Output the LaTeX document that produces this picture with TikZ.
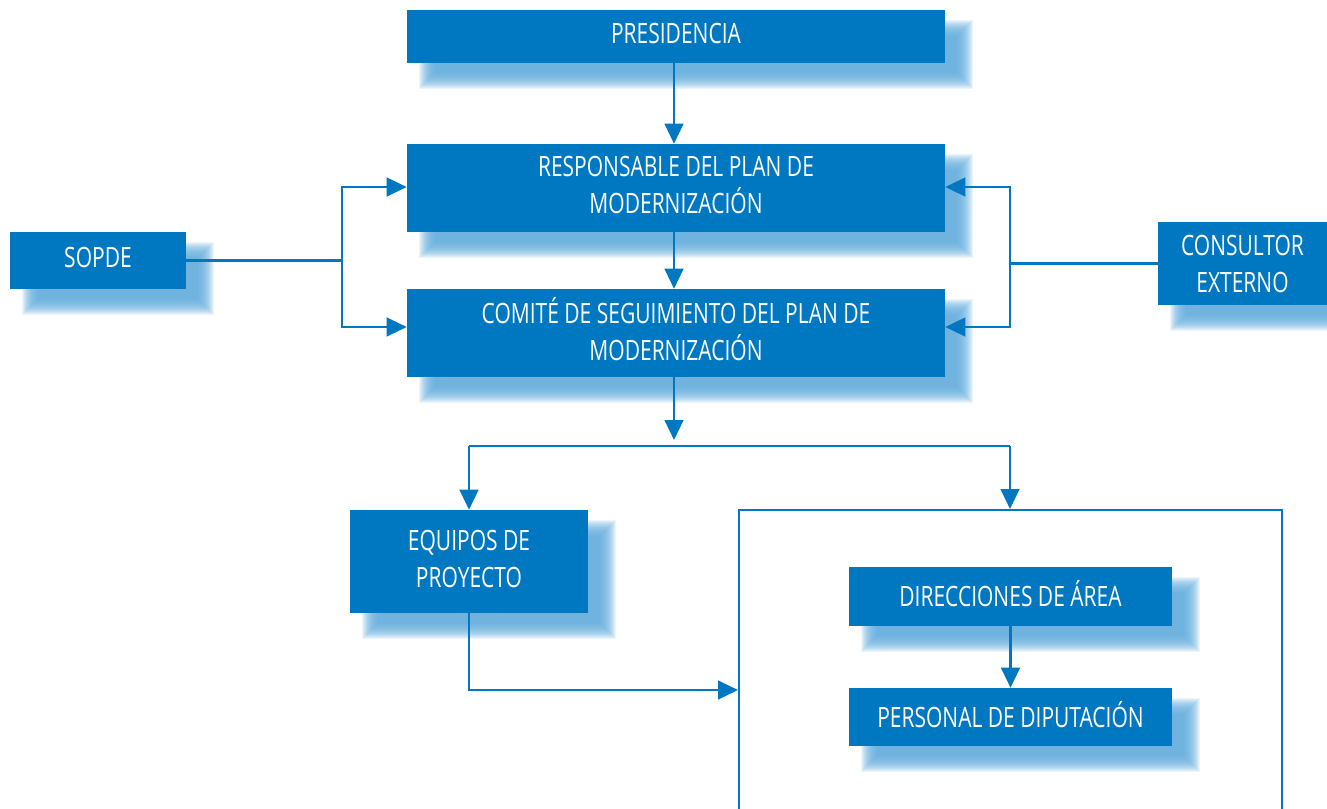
\documentclass[tikz,border=0pt]{standalone}
\usepackage{fontspec}
\setmainfont[FakeStretch=0.75]{Open Sans}
\usetikzlibrary{arrows.meta,calc,backgrounds}
\definecolor{mainblue}{HTML}{0078C1}
\definecolor{shadowblue}{HTML}{5FAADB}
\newcommand{\boxshadow}[1]{%
  \foreach \d in {-8,-7,...,8} {%
    \fill[shadowblue, opacity=0.12] ($(#1.north west)+(20+\d,18+\d)$) rectangle ($(#1.south east)+(20-\d,18-\d)$);}}
\begin{document}
\begin{tikzpicture}[x=0.75pt,y=-0.75pt,
  box/.style={fill=mainblue, text=white, inner sep=0pt, align=center,
    font=\fontsize{21}{27.75}\selectfont, text depth=4.5pt},
  arr/.style={draw=mainblue, line width=1.7pt, -{Triangle[length=15pt,width=14pt]}},
  con/.style={draw=mainblue, line width=1.7pt},
  framebox/.style={draw=mainblue, line width=1.5pt, fill=none}]
\clip (0,0) rectangle (1327,808);
% nodes
\node[box, minimum width=403.5pt, minimum height=39.75pt] (pres) at (676,36.5) {PRESIDENCIA};
\node[box, minimum width=403.5pt, minimum height=66pt] (resp) at (676,188) {RESPONSABLE DEL PLAN DE\\MODERNIZACIÓN};
\node[box, minimum width=403.5pt, minimum height=66pt, text depth=6pt] (comite) at (676,333) {COMITÉ DE SEGUIMIENTO DEL PLAN DE\\MODERNIZACIÓN};
\node[box, minimum width=132pt, minimum height=42.75pt] (sopde) at (98,260.5) {SOPDE};
\node[box, minimum width=126.75pt, minimum height=62.25pt, text depth=0pt] (cons) at (1242.5,263.5) {CONSULTOR\\EXTERNO};
\node[box, minimum width=178.5pt, minimum height=77.25pt] (equipos) at (469,561.5) {EQUIPOS DE\\PROYECTO};
\node[framebox, minimum width=407.25pt, minimum height=270pt] (frame) at (1010.5,690) {};
\node[box, minimum width=242.25pt, minimum height=44.25pt] (dir) at (1010.5,596.5) {DIRECCIONES DE ÁREA};
\node[box, minimum width=242.25pt, minimum height=43.5pt] (pers) at (1010.5,717) {PERSONAL DE DIPUTACIÓN};
% shadows
\begin{pgfonlayer}{background}
\boxshadow{pres}
\boxshadow{resp}
\boxshadow{comite}
\boxshadow{sopde}
\boxshadow{cons}
\boxshadow{equipos}
\boxshadow{dir}
\boxshadow{pers}
\end{pgfonlayer}
% coordinates
\coordinate (sj) at (342,260.5);
\coordinate (cj) at (1010,263.5);
\coordinate (cdown) at (674,440);
\coordinate (bl) at (469,446);
\coordinate (br) at (1010,446);
% connectors
\draw[arr] (pres.south -| 674,0) -- (resp.north -| 674,0);
\draw[arr] (resp.south -| 674,0) -- (comite.north -| 674,0);
\draw[con] (sopde.east) -- (sj);
\draw[arr] (sj) |- ($(resp.west)+(0,-1)$);
\draw[arr] (sj) |- ($(comite.west)+(0,-6)$);
\draw[con] (cons.west) -- (cj);
\draw[arr] (cj) |- ($(resp.east)+(0,-1)$);
\draw[arr] (cj) |- ($(comite.east)+(0,-6)$);
\draw[arr] (comite.south -| cdown) -- (cdown);
\draw[con] (bl) -- (br);
\draw[arr] (bl) -- (equipos.north);
\draw[arr] (br) -- (frame.north -| br);
\draw[arr] (equipos.south) |- (frame.west);
\draw[arr] (dir.south) -- (pers.north);
\end{tikzpicture}
\end{document}
